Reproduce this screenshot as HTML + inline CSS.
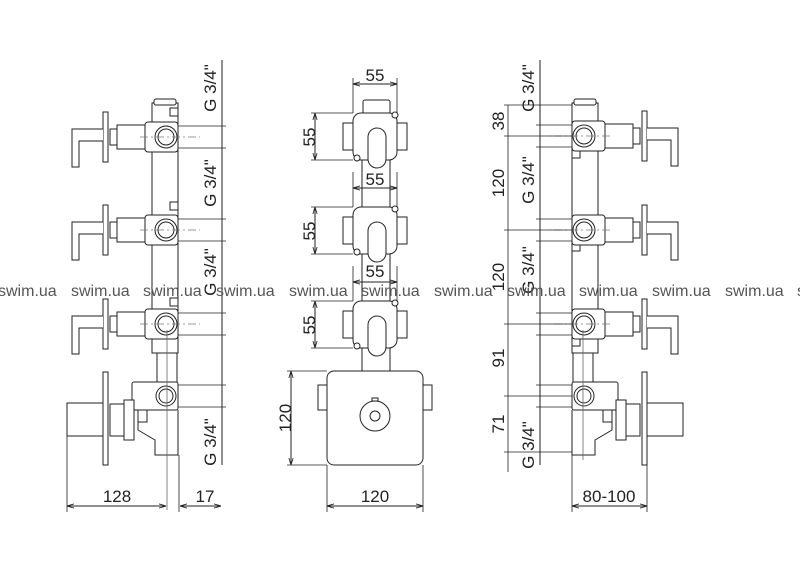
<!DOCTYPE html>
<html><head><meta charset="utf-8"><style>
html,body{margin:0;padding:0;background:#fff;}
svg{display:block;}
text{font-family:"Liberation Sans",sans-serif;fill:#222;}
</style></head><body>
<svg width="800" height="580" viewBox="0 0 800 580" xmlns="http://www.w3.org/2000/svg">
<defs>
<marker id="a" viewBox="0 0 10 10" refX="10" refY="5" markerWidth="7" markerHeight="7" orient="auto-start-reverse"><path d="M0,2 L10,5 L0,8" fill="none" stroke="#222" stroke-width="1.2"/></marker>
<g id="valveL">
 <rect x="145" y="-15" width="33" height="30" rx="3" fill="#fff" stroke="#222"/>
 <circle cx="166" cy="0" r="11" fill="#fff" stroke="#222"/>
 <circle cx="166" cy="0" r="8" fill="none" stroke="#222"/>
 <rect x="117" y="-12" width="28" height="24" fill="#fff" stroke="#222"/>
 <rect x="110" y="-8" width="7" height="16" fill="#fff" stroke="#222"/>
 <rect x="103" y="-25" width="5" height="50" fill="#fff" stroke="#222"/>
 <path d="M103,-8 L72,-8 L72,30 L79,30 L79,4 L103,4" fill="#fff" stroke="#222"/>
 <line x1="140" y1="0" x2="200" y2="0" stroke="#777" stroke-dasharray="8,3,2,3" stroke-width="0.8"/>
</g>
<g id="modM">
 <rect x="343" y="10" width="10" height="27" fill="#fff" stroke="#222"/>
 <rect x="397" y="10" width="10" height="27" fill="#fff" stroke="#222"/>
 <rect x="353" y="0" width="44" height="47" rx="8" fill="#fff" stroke="#222"/>
 <circle cx="395" cy="2" r="3" fill="#fff" stroke="#222"/>
 <circle cx="357" cy="45" r="3" fill="#fff" stroke="#222"/>
 <rect x="368" y="15" width="18" height="40" rx="9" fill="#fff" stroke="#222"/>
</g>
</defs>
<g stroke="#222" stroke-width="1" fill="none">
<rect x="152" y="103" width="26" height="250" fill="#fff"/>
<rect x="154" y="99" width="22" height="6" rx="2" fill="#fff"/>
<rect x="170" y="108" width="8" height="8"/>
<rect x="170" y="202" width="8" height="8"/>
<rect x="170" y="298" width="8" height="8"/>
<use href="#valveL" y="137"/>
<use href="#valveL" y="230"/>
<use href="#valveL" y="324"/>
<rect x="157" y="353" width="20" height="30" fill="#fff"/>
<path d="M138,410 L138,430 L155,440 L155,455 L178,455 L178,410" fill="#fff"/>
<rect x="132" y="382" width="46" height="28" rx="2" fill="#fff"/>
<circle cx="166" cy="396" r="10" fill="#fff"/>
<circle cx="166" cy="396" r="7"/>
<rect x="138" y="410" width="9" height="12"/>
<rect x="124" y="400" width="10" height="40" fill="#fff"/>
<rect x="110" y="404" width="14" height="32" fill="#fff"/>
<rect x="103" y="372" width="5" height="93" fill="#fff"/>
<rect x="67" y="403" width="36" height="33" fill="#fff"/>
<line x1="167" y1="330" x2="167" y2="510" stroke="#666" stroke-width="0.8"/>
<line x1="222" y1="60" x2="222" y2="465"/>
<g stroke-width="0.8">
<line x1="178" y1="126" x2="226" y2="126"/><line x1="178" y1="148" x2="226" y2="148"/>
<line x1="178" y1="219" x2="226" y2="219"/><line x1="178" y1="241" x2="226" y2="241"/>
<line x1="178" y1="313" x2="226" y2="313"/><line x1="178" y1="335" x2="226" y2="335"/>
<line x1="178" y1="385" x2="226" y2="385"/><line x1="178" y1="407" x2="226" y2="407"/>
<line x1="67" y1="436" x2="67" y2="512"/><line x1="179" y1="455" x2="179" y2="512"/>
</g>
<line x1="67" y1="506" x2="166" y2="506" marker-start="url(#a)" marker-end="url(#a)"/>
<line x1="180" y1="506" x2="221" y2="506" marker-start="url(#a)" marker-end="url(#a)"/>
<rect x="362" y="155" width="28" height="160" fill="#fff"/>
<rect x="362" y="345" width="28" height="30" fill="#fff"/>
<rect x="363" y="100" width="27" height="15" rx="2" fill="#fff"/>
<use href="#modM" y="113"/>
<use href="#modM" y="207"/>
<use href="#modM" y="301"/>
<rect x="318" y="385" width="10" height="25" fill="#fff"/>
<rect x="422" y="385" width="10" height="25" fill="#fff"/>
<rect x="327" y="371" width="96" height="94" rx="7" fill="#fff"/>
<circle cx="375" cy="416" r="15" fill="#fff"/>
<circle cx="375" cy="416" r="5"/>
<rect x="372" y="398" width="6" height="3"/>
<g stroke-width="0.8">
<line x1="353" y1="78" x2="353" y2="113"/><line x1="397" y1="78" x2="397" y2="113"/>
<line x1="353" y1="172" x2="353" y2="207"/><line x1="397" y1="172" x2="397" y2="207"/>
<line x1="353" y1="266" x2="353" y2="301"/><line x1="397" y1="266" x2="397" y2="301"/>
<line x1="311" y1="113" x2="353" y2="113"/><line x1="311" y1="160" x2="353" y2="160"/>
<line x1="311" y1="207" x2="353" y2="207"/><line x1="311" y1="254" x2="353" y2="254"/>
<line x1="311" y1="301" x2="353" y2="301"/><line x1="311" y1="348" x2="353" y2="348"/>
<line x1="287" y1="371" x2="327" y2="371"/><line x1="287" y1="465" x2="327" y2="465"/>
<line x1="327" y1="465" x2="327" y2="512"/><line x1="423" y1="465" x2="423" y2="512"/>
</g>
<line x1="353" y1="84" x2="397" y2="84" marker-start="url(#a)" marker-end="url(#a)"/>
<line x1="353" y1="188" x2="397" y2="188" marker-start="url(#a)" marker-end="url(#a)"/>
<line x1="353" y1="282" x2="397" y2="282" marker-start="url(#a)" marker-end="url(#a)"/>
<line x1="315" y1="113" x2="315" y2="160" marker-start="url(#a)" marker-end="url(#a)"/>
<line x1="315" y1="207" x2="315" y2="254" marker-start="url(#a)" marker-end="url(#a)"/>
<line x1="315" y1="301" x2="315" y2="348" marker-start="url(#a)" marker-end="url(#a)"/>
<line x1="291" y1="371" x2="291" y2="465" marker-start="url(#a)" marker-end="url(#a)"/>
<line x1="327" y1="506" x2="423" y2="506" marker-start="url(#a)" marker-end="url(#a)"/>
<g transform="translate(750,0) scale(-1,1)">
<rect x="152" y="103" width="26" height="250" fill="#fff"/>
<rect x="154" y="99" width="22" height="6" rx="2" fill="#fff"/>
<rect x="170" y="150" width="8" height="8"/>
<rect x="170" y="243" width="8" height="8"/>
<rect x="170" y="338" width="8" height="8"/>
<use href="#valveL" y="136"/>
<use href="#valveL" y="230"/>
<use href="#valveL" y="324"/>
<rect x="157" y="353" width="20" height="30" fill="#fff"/>
<path d="M138,410 L138,430 L155,440 L155,455 L178,455 L178,410" fill="#fff"/>
<rect x="132" y="382" width="46" height="28" rx="2" fill="#fff"/>
<circle cx="166" cy="396" r="10" fill="#fff"/>
<circle cx="166" cy="396" r="7"/>
<rect x="138" y="410" width="9" height="12"/>
<rect x="124" y="400" width="10" height="40" fill="#fff"/>
<rect x="110" y="404" width="14" height="32" fill="#fff"/>
<rect x="103" y="372" width="5" height="93" fill="#fff"/>
<rect x="67" y="403" width="36" height="33" fill="#fff"/>
<line x1="167" y1="330" x2="167" y2="460" stroke="#666" stroke-width="0.8"/>
</g>
<line x1="540" y1="60" x2="540" y2="465"/>
<line x1="508" y1="105" x2="508" y2="472" stroke-width="0.8"/>
<g stroke-width="0.8">
<line x1="504" y1="105" x2="572" y2="105"/>
<line x1="504" y1="136" x2="572" y2="136"/><line x1="536" y1="125" x2="572" y2="125"/><line x1="536" y1="147" x2="572" y2="147"/>
<line x1="504" y1="230" x2="572" y2="230"/><line x1="536" y1="219" x2="572" y2="219"/><line x1="536" y1="241" x2="572" y2="241"/>
<line x1="504" y1="324" x2="572" y2="324"/><line x1="536" y1="313" x2="572" y2="313"/><line x1="536" y1="335" x2="572" y2="335"/>
<line x1="504" y1="396" x2="572" y2="396"/><line x1="536" y1="385" x2="572" y2="385"/><line x1="536" y1="407" x2="572" y2="407"/>
<line x1="504" y1="452" x2="572" y2="452"/>
<line x1="572" y1="455" x2="572" y2="512"/><line x1="647" y1="465" x2="647" y2="512"/>
</g>
<line x1="572" y1="506" x2="647" y2="506" marker-start="url(#a)" marker-end="url(#a)"/>
</g>
<g font-size="17">
<text transform="translate(216,88) rotate(-90)" text-anchor="middle">G 3/4"</text>
<text transform="translate(216,183) rotate(-90)" text-anchor="middle">G 3/4"</text>
<text transform="translate(216,272) rotate(-90)" text-anchor="middle">G 3/4"</text>
<text transform="translate(216,442) rotate(-90)" text-anchor="middle">G 3/4"</text>
<text x="117" y="502" text-anchor="middle">128</text>
<text x="205" y="502" text-anchor="middle">17</text>
<text x="375" y="81" text-anchor="middle">55</text>
<text x="375" y="185" text-anchor="middle">55</text>
<text x="375" y="277" text-anchor="middle">55</text>
<text transform="translate(315,137) rotate(-90)" text-anchor="middle">55</text>
<text transform="translate(315,231) rotate(-90)" text-anchor="middle">55</text>
<text transform="translate(315,325) rotate(-90)" text-anchor="middle">55</text>
<text transform="translate(291,418) rotate(-90)" text-anchor="middle">120</text>
<text x="375" y="502" text-anchor="middle">120</text>
<text transform="translate(534,88) rotate(-90)" text-anchor="middle">G 3/4"</text>
<text transform="translate(534,180) rotate(-90)" text-anchor="middle">G 3/4"</text>
<text transform="translate(534,270) rotate(-90)" text-anchor="middle">G 3/4"</text>
<text transform="translate(534,445) rotate(-90)" text-anchor="middle">G 3/4"</text>
<text transform="translate(504,121) rotate(-90)" text-anchor="middle">38</text>
<text transform="translate(504,183) rotate(-90)" text-anchor="middle">120</text>
<text transform="translate(504,277) rotate(-90)" text-anchor="middle">120</text>
<text transform="translate(504,358) rotate(-90)" text-anchor="middle">91</text>
<text transform="translate(504,424) rotate(-90)" text-anchor="middle">71</text>
<text x="609" y="502" text-anchor="middle">80-100</text>
</g>
<g font-size="16">
<text x="-2" y="296" style="fill:#555">swim.ua</text>
<text x="71" y="296" style="fill:#555">swim.ua</text>
<text x="143" y="296" style="fill:#555">swim.ua</text>
<text x="216" y="296" style="fill:#555">swim.ua</text>
<text x="289" y="296" style="fill:#555">swim.ua</text>
<text x="361" y="296" style="fill:#555">swim.ua</text>
<text x="434" y="296" style="fill:#555">swim.ua</text>
<text x="507" y="296" style="fill:#555">swim.ua</text>
<text x="579" y="296" style="fill:#555">swim.ua</text>
<text x="652" y="296" style="fill:#555">swim.ua</text>
<text x="725" y="296" style="fill:#555">swim.ua</text>
<text x="797" y="296" style="fill:#555">swim.ua</text>
</g>
</svg>
</body></html>
